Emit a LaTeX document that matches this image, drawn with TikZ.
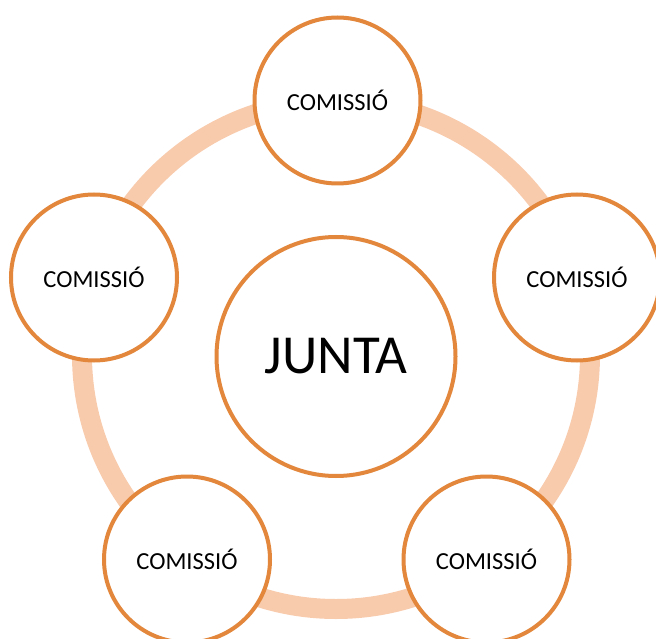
\documentclass[tikz,border=0pt]{standalone}
\usepackage{fontspec}
\setmainfont{Carlito}
\definecolor{ringc}{RGB}{248,203,173}
\definecolor{edgec}{RGB}{226,135,60}
\begin{document}
\begin{tikzpicture}[x=1pt,y=1pt,
  comm/.style={circle,draw=edgec,line width=4pt,fill=white,minimum size=166pt,inner sep=0pt,font=\fontsize{24.5}{28}\selectfont},
  core/.style={circle,draw=edgec,line width=4pt,fill=white,minimum size=239pt,inner sep=0pt,font=\fontsize{55}{60}\selectfont}]
\useasboundingbox (0,0) rectangle (656,-639);
\clip (0,0) rectangle (656,-639);
\coordinate (o) at (336,-355);
\draw[ringc,line width=20pt] (o) circle[radius=254pt];
\node[core] (junta) at (336,-356.5) {JUNTA};
\node[comm] (c1) at (337.5,-100.5) {COMISSIÓ};
\node[comm] (c2) at (577,-277.5) {COMISSIÓ};
\node[comm] (c3) at (94,-277.5) {COMISSIÓ};
\node[comm] (c4) at (187,-559.5) {COMISSIÓ};
\node[comm] (c5) at (486.5,-559.5) {COMISSIÓ};
\end{tikzpicture}
\end{document}
